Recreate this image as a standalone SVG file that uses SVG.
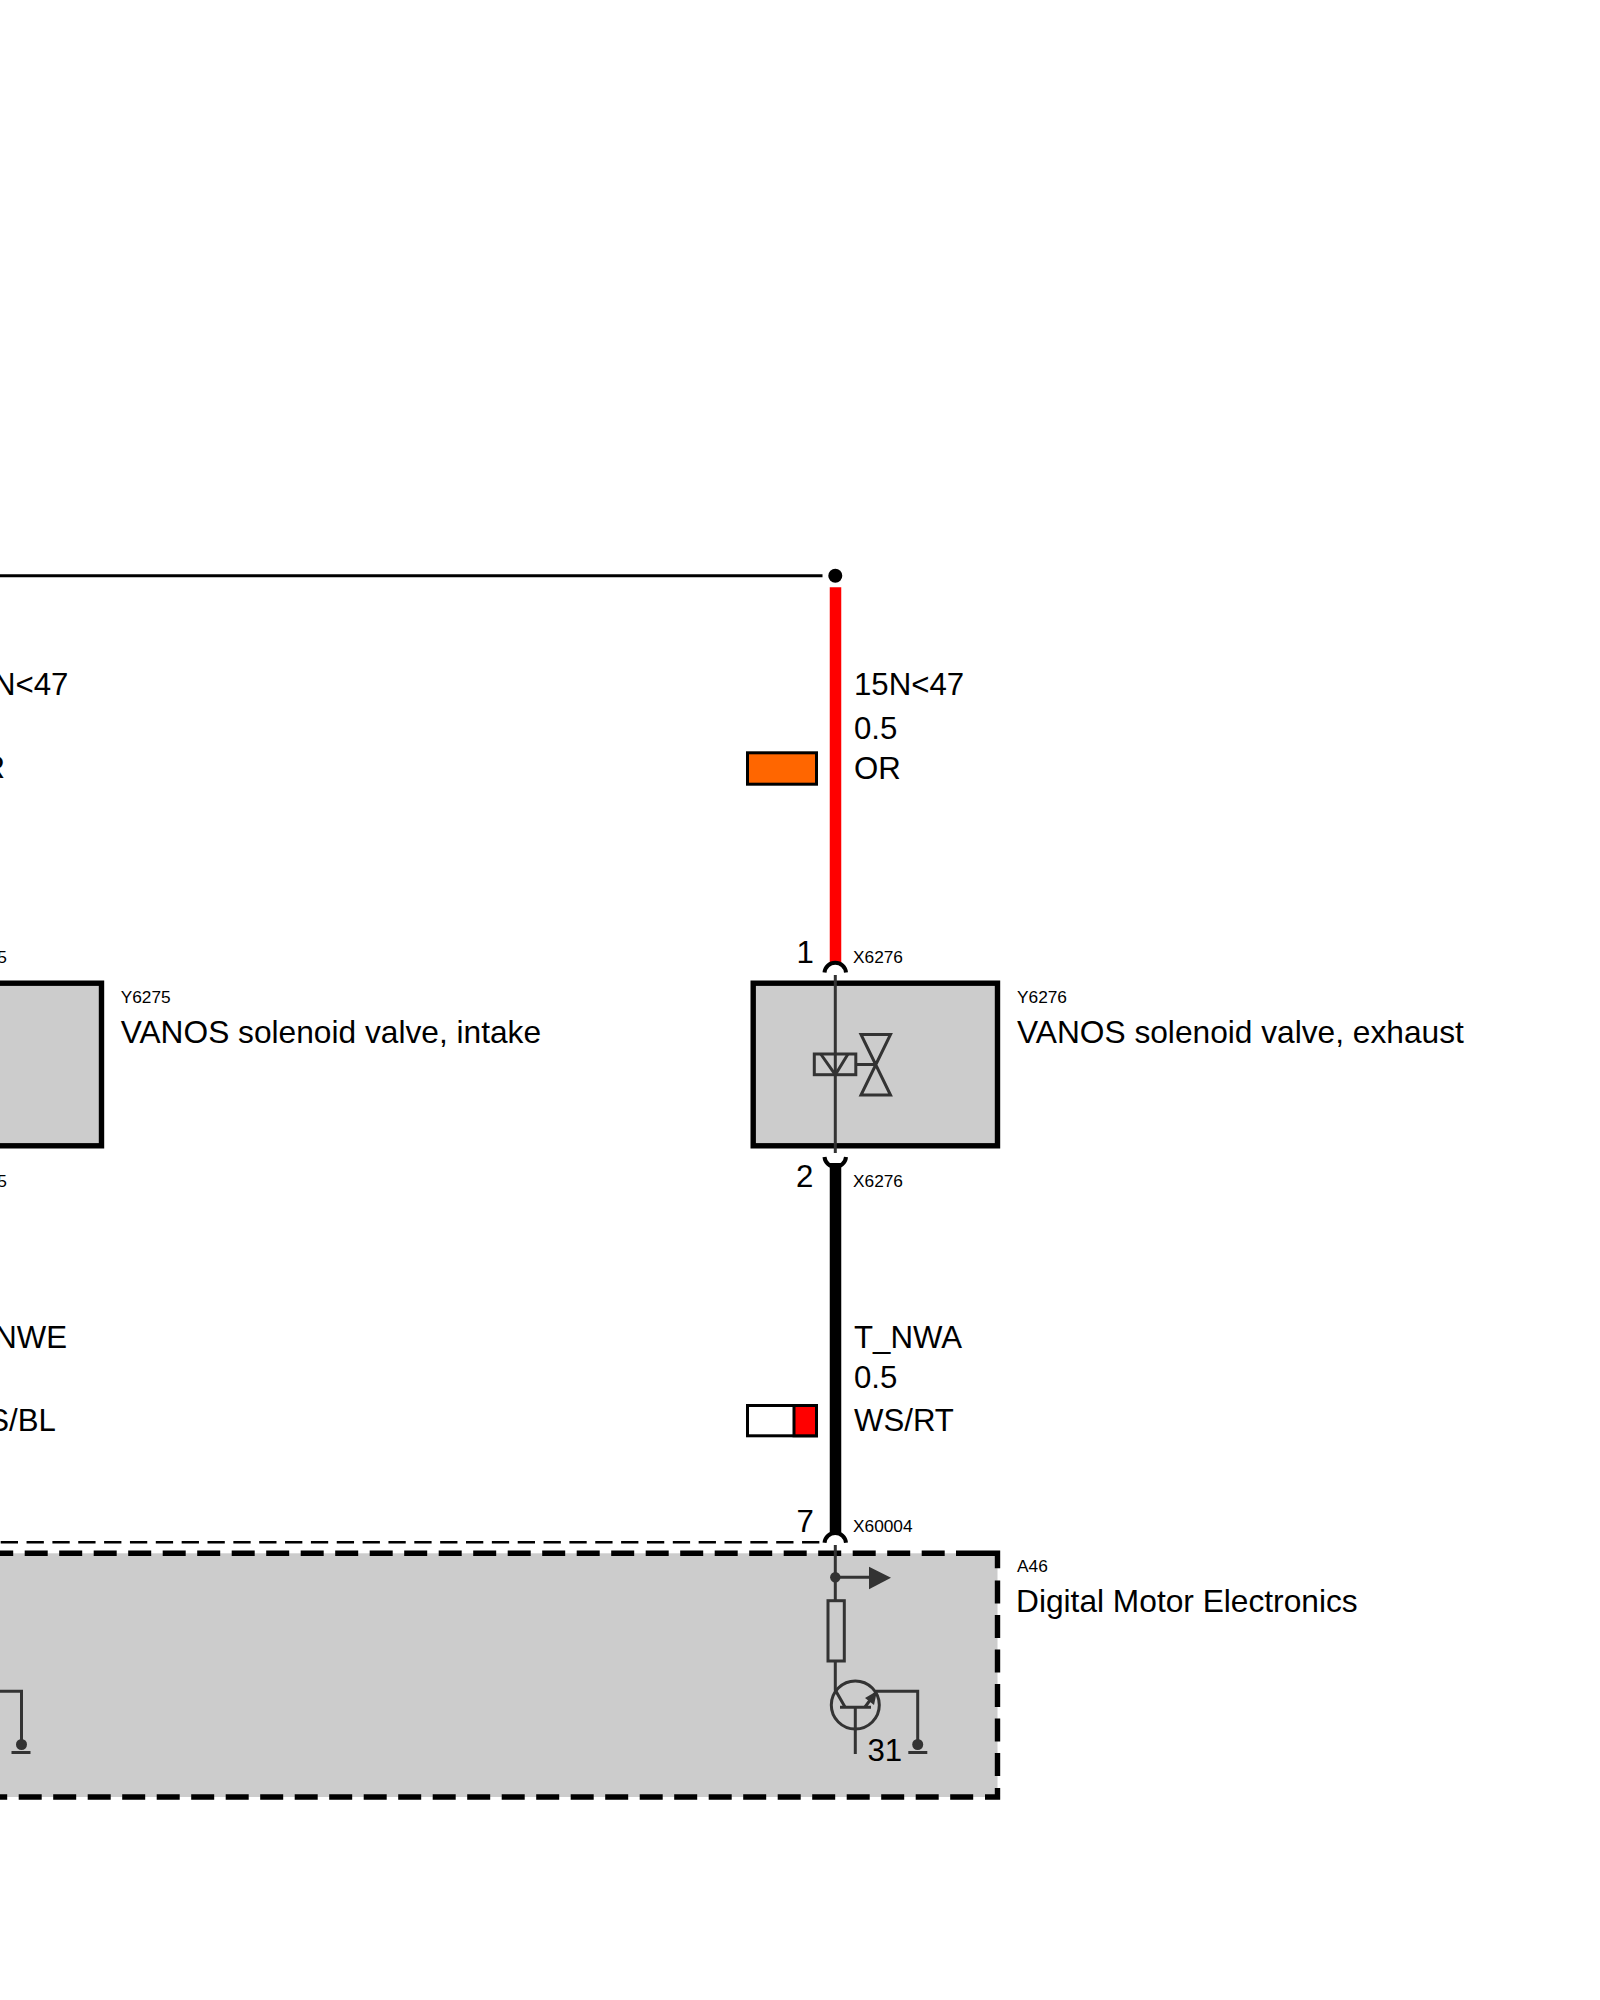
<svg xmlns="http://www.w3.org/2000/svg" width="1600" height="2000" viewBox="0 0 1600 2000">
<style>
text{font-family:"Liberation Sans",Arial,sans-serif;fill:#000}
.l{font-size:31.2px}
.d{font-size:31.7px}
.s{font-size:17.3px}
.box{fill:#ccc;stroke:#000;stroke-width:5.4}
.sym{fill:none;stroke:#333;stroke-width:3}
.symf{fill:#333;stroke:none}
.pin{fill:none;stroke:#000;stroke-width:4}
.dash{fill:none;stroke:#000;stroke-width:5.4}
.d1{stroke-dasharray:23 11.5}
.sw{stroke:#000;stroke-width:3}
</style>
<rect width="1600" height="2000" fill="#fff"/>
<g id="connectors">
<path d="M0 575.7H822.5" fill="none" stroke="#000" stroke-width="3"/>
<circle cx="835.3" cy="575.7" r="7" fill="#000"/>
<path d="M835.5 587.3V964" fill="none" stroke="#f00" stroke-width="11.5"/>
<path d="M835.5 1163V1535" fill="none" stroke="#000" stroke-width="11.5"/>
<path d="M0.7 1542.3H820" fill="none" stroke="#000" stroke-width="2.5" stroke-dasharray="17.3 8.55"/>
</g>
<g id="wire-left-labels">
<text class="l" x="-41.7" y="695">15N&lt;47</text>
<text class="l" x="-41.7" y="778.3">OR</text>
<text class="s" x="-43" y="962.7">X6275</text>
<text class="s" x="-43" y="1186.7">X6275</text>
<text class="l" x="-42.2" y="1348.3">T_NWE</text>
<text class="l" x="-41.2" y="1430.5">WS/BL</text>
</g>
<g id="wire-right-labels">
<text class="l" x="854" y="695">15N&lt;47</text>
<text class="l" x="854" y="739.3">0.5</text>
<text class="l" x="854" y="778.5">OR</text>
<rect class="sw" x="747.5" y="752.8" width="69" height="31.4" fill="#f60"/>
<text class="l" x="854" y="1348.3">T_NWA</text>
<text class="l" x="854" y="1387.7">0.5</text>
<text class="l" x="854" y="1430.5">WS/RT</text>
<rect class="sw" x="747.5" y="1405.5" width="69" height="30.3" fill="#fff"/>
<rect class="sw" x="794" y="1405.5" width="22.5" height="30.3" fill="#f00"/>
</g>
<g id="Y6275">
<rect class="box" x="-20" y="983.2" width="121.5" height="162.6"/>
<text class="s" x="120.7" y="1003.3">Y6275</text>
<text class="d" x="120.7" y="1042.7">VANOS solenoid valve, intake</text>
</g>
<g id="Y6276">
<rect class="box" x="753.2" y="983.2" width="244.3" height="162.6"/>
<path class="pin" d="M824.5 972.5A10.8 10.8 0 0 1 846 972.5"/>
<path class="pin" d="M824.5 1157A10.8 10.8 0 0 0 846 1157"/>
<path class="sym" d="M835.3 975V1153"/>
<rect class="sym" x="814.3" y="1054" width="41.5" height="20.7"/>
<path class="sym" d="M820.7 1054L835.3 1074.7L848 1054"/>
<path class="sym" d="M855.8 1064.5H875.5"/>
<path class="sym" d="M861 1034.5H890.5L861 1095H890.5Z"/>
<text class="l" x="796.5" y="962.7">1</text>
<text class="s" x="853" y="962.7">X6276</text>
<text class="l" x="796" y="1186.7">2</text>
<text class="s" x="853" y="1186.7">X6276</text>
<text class="s" x="1017" y="1003.3">Y6276</text>
<text class="d" x="1017" y="1042.7">VANOS solenoid valve, exhaust</text>
</g>
<g id="A46">
<rect x="-10" y="1553.3" width="1007.5" height="243.7" fill="#ccc"/>
<path class="dash d1" d="M-9.8 1553.3H944.7"/>
<path class="dash" d="M956 1553.3H997.5V1568.3"/>
<path class="dash d1" d="M997.5 1580.5V1776.7"/>
<path class="dash" d="M997.5 1788V1797H985"/>
<path class="dash d1" d="M-15.8 1797H973.5"/>
<path class="pin" d="M824.5 1542.7A10.8 10.8 0 0 1 846 1542.7"/>
<path class="sym" d="M835.3 1545V1600.7"/>
<circle class="symf" cx="835.3" cy="1577.3" r="5.2"/>
<path class="sym" d="M835.3 1577.3H870"/>
<path class="symf" d="M869 1566.7L891 1577.7L869 1589.3Z"/>
<rect class="sym" x="828" y="1600.7" width="16.3" height="60.3"/>
<path class="sym" d="M835.3 1661V1690L845 1707"/>
<circle class="sym" cx="855.3" cy="1705" r="24"/>
<path class="sym" d="M840 1707.3H871M855.3 1707.3V1754"/>
<path class="sym" d="M865 1707L876.7 1691.2H917.7V1744"/>
<path class="symf" d="M865 1698L877 1691L874 1705Z"/>
<circle class="symf" cx="917.7" cy="1744.5" r="5.5"/>
<path class="sym" d="M908.3 1752.5H927.3"/>
<path class="sym" d="M0 1691.2H21.5V1744"/>
<circle class="symf" cx="21.5" cy="1744.5" r="5.5"/>
<path class="sym" d="M11.5 1752.5H30.5"/>
<text class="l" x="796.5" y="1531.7">7</text>
<text class="s" x="853" y="1531.7">X60004</text>
<text class="l" x="867.5" y="1761">31</text>
<text class="s" x="1017" y="1572.3">A46</text>
<text class="d" x="1016" y="1611.7">Digital Motor Electronics</text>
</g>
</svg>
